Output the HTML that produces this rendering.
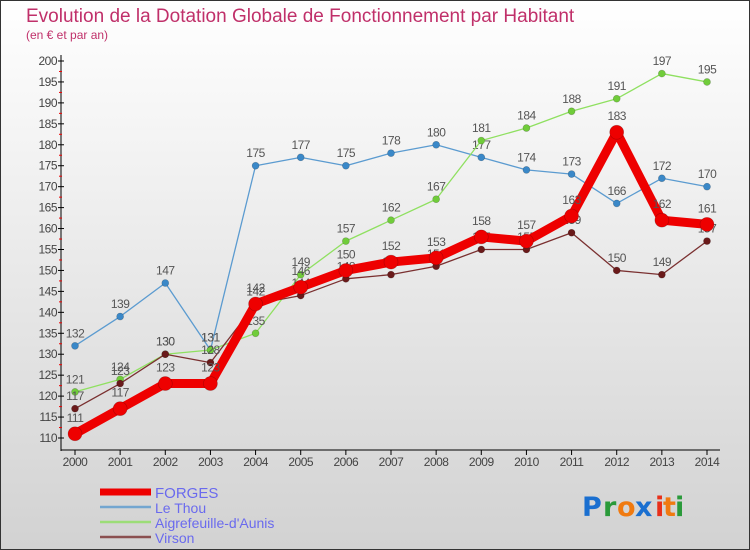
<!DOCTYPE html>
<html><head><meta charset="utf-8"><style>
body{margin:0;}
#wrap{position:relative;width:750px;height:550px;overflow:hidden;font-family:"Liberation Sans",sans-serif;}
</style></head><body>
<div id="wrap">
<svg id="chart" width="750" height="550" xmlns="http://www.w3.org/2000/svg">
<defs>
<linearGradient id="bg" x1="0" y1="0" x2="0" y2="1">
<stop offset="0" stop-color="#ffffff"/><stop offset="1" stop-color="#d2d2d2"/>
</linearGradient>
</defs>
<rect x="0.5" y="0.5" width="749" height="549" fill="url(#bg)" stroke="#333"/>
<text x="26" y="22" font-size="19" fill="#c0306a">Evolution de la Dotation Globale de Fonctionnement par Habitant</text>
<text x="26" y="39" font-size="12" fill="#c0306a">(en € et par an)</text>
<g id="axes"></g>
<g id="series"></g>
<g id="legend"></g>
<g font-size="27" font-family="'DejaVu Sans',sans-serif" font-weight="bold">
<text x="582" y="516" fill="#1a6fd0">P</text><text x="603" y="516" fill="#2a9a3a">r</text><text x="617" y="516" fill="#f07a10">o</text><text x="635" y="516" fill="#1a6fd0">x</text><text x="655" y="516" fill="#e8301a">i</text><text x="663" y="516" fill="#f07a10">t</text><text x="675" y="516" fill="#2a9a3a">i</text>
</g>
</svg>
</div>
<script>
const years=[2000,2001,2002,2003,2004,2005,2006,2007,2008,2009,2010,2011,2012,2013,2014];
const forges=[111,117,123,123,142,146,150,152,153,158,157,163,183,162,161];
const leThou=[132,139,147,131,175,177,175,178,180,177,174,173,166,172,170];
const aigrefeuille=[121,124,130,131,135,149,157,162,167,181,184,188,191,197,195];
const virson=[117,123,130,128,142,144,148,149,151,155,155,159,150,149,157];
const yTicks=[110,115,120,125,130,135,140,145,150,155,160,165,170,175,180,185,190,195,200];
const NS="http://www.w3.org/2000/svg";
function X(i){return 75+i*(707-75)/(years.length-1);}
function Y(v){return 438-(v-110)*(438-61)/90;}
function mk(tag,attrs,parent){const e=document.createElementNS(NS,tag);for(const k in attrs)e.setAttribute(k,attrs[k]);parent.appendChild(e);return e;}
const axes=document.getElementById('axes');
let a=mk('line',{x1:61,y1:55,x2:61,y2:451,stroke:'#000'},axes);


a=mk('line',{x1:61,y1:450,x2:720,y2:450,stroke:'#000'},axes);


yTicks.forEach((t,i)=>{
  mk('line',{x1:58,y1:Y(t),x2:64,y2:Y(t),stroke:'#000'},axes);
  if(i<yTicks.length-1) mk('line',{x1:59,y1:Y(t+2.5),x2:62,y2:Y(t+2.5),stroke:'#e00'},axes);
  const tx=mk('text',{x:57,y:Y(t)+4,'font-size':12,'text-anchor':'end',fill:'#444','letter-spacing':'-0.5'},axes);
  tx.textContent=t;
  
  
});
years.forEach((yr,i)=>{
  mk('line',{x1:X(i),y1:450,x2:X(i),y2:455,stroke:'#000'},axes);
  const tx=mk('text',{x:X(i),y:466,'font-size':12,'text-anchor':'middle',fill:'#444','letter-spacing':'-0.5'},axes);
  tx.textContent=yr;
  
  
});
const sg=document.getElementById('series');
const defs=[
 {name:'leThou',data:leThou,color:'#5b9bd0',w:1.3,r:3.5,dot:'#3a88c8',lab:'Le Thou'},
 {name:'aigrefeuille',data:aigrefeuille,color:'#8fe060',w:1.3,r:3.5,dot:'#70cc3a',lab:'Aigrefeuille-d\'Aunis'},
 {name:'virson',data:virson,color:'#7a3030',w:1.3,r:3.5,dot:'#6a1a1a',lab:'Virson'},
 {name:'forges',data:forges,color:'#ee0000',w:9,r:7,dot:'#ee0000',lab:'FORGES'}
];
const order=[3,0,1,2];
defs.forEach(s=>{
  const g=mk('g',{},sg);
  
  
  const pts=s.data.map((v,i)=>X(i)+','+Y(v)).join(' ');
  const pl=mk('polyline',{points:pts,fill:'none',stroke:s.color,'stroke-width':s.w,'stroke-linejoin':'round'},g);
  
  
  s.data.forEach((v,i)=>{
    const c=mk('circle',{cx:X(i),cy:Y(v),r:s.r,fill:s.dot,stroke:'rgba(0,0,0,0.25)','stroke-width':0.6},g);
    
    
    const t=mk('text',{x:X(i),y:Y(v)-(s.r+5),'font-size':12,'text-anchor':'middle',fill:'#555','letter-spacing':'-0.5'},g);
    t.textContent=v;
    
    
  });
});
const lg=document.getElementById('legend');
order.forEach((k,j)=>{
  const s=defs[k];const y=492+j*15;
  const g=mk('g',{},lg);
  
  
  mk('line',{x1:100,y1:y,x2:151,y2:y,stroke:s.color,'stroke-width':k==3?7:2.5,opacity:k==3?1:0.8},g);
  const t=mk('text',{x:155,y:y+6,'font-size':k==3?15:14,fill:'#6a6aee'},g);
  t.textContent=s.lab;
});
</script>
</body></html>
